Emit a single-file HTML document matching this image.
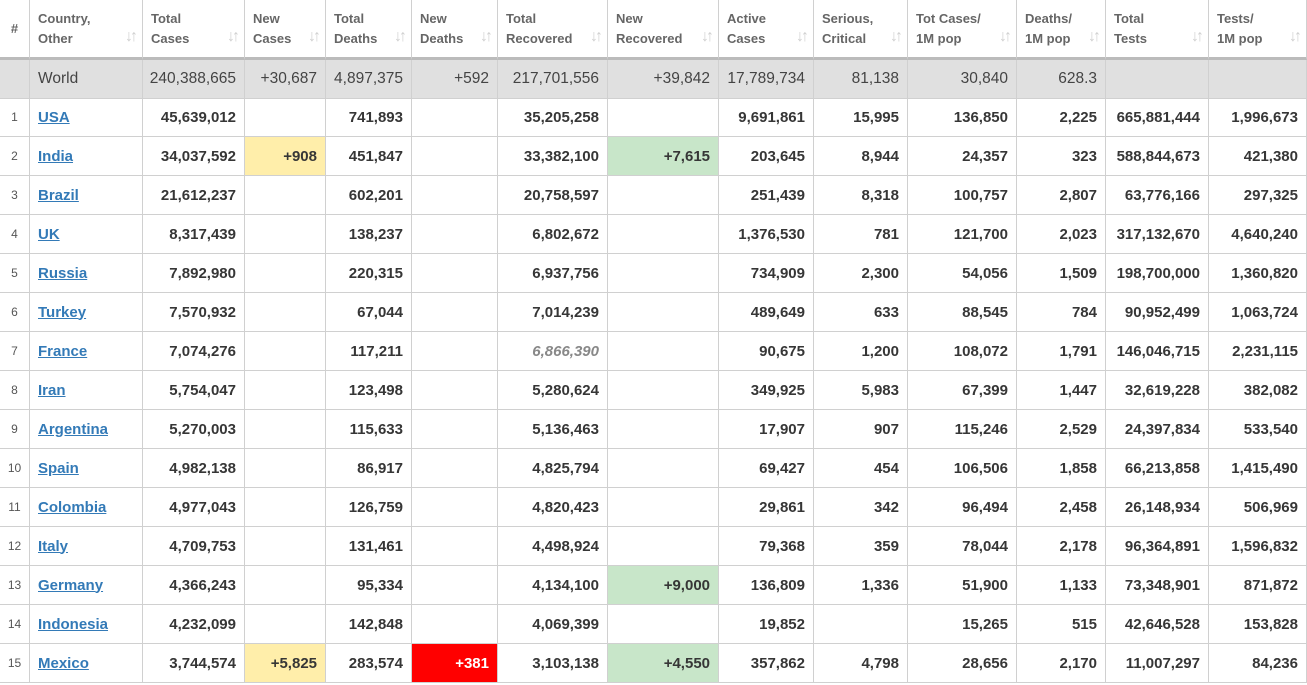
<!DOCTYPE html>
<html><head><meta charset="utf-8"><style>
body{margin:0;width:1307px;height:685px;overflow:hidden;background:#fff;font-family:"Liberation Sans",Arial,sans-serif}
#t{position:relative;width:1307px;height:685px}
.c{position:absolute;box-sizing:border-box;border-right:1px solid #d0d0d0;border-bottom:1px solid #d0d0d0;padding:0 8px;display:flex;align-items:center;justify-content:flex-end;font-size:15px;font-weight:bold;color:#363636;white-space:nowrap}
.h{align-items:center;justify-content:flex-start;font-size:13px;color:#666;line-height:20px;white-space:normal;padding:0 26px 0 8px;border-bottom:3px solid #bbb}
.h .s{position:absolute;right:7px;bottom:10px;color:#d0d0d0;font-size:16px;letter-spacing:-3px}
.w{background:#e0e0e0;font-weight:normal;color:#444;font-size:15.5px}
.l{justify-content:flex-start}
.l a{color:#337ab7;text-decoration:underline}
.n{justify-content:center;font-weight:normal;font-size:12px;color:#555}
.y{background:#ffeeaa}.g{background:#c8e6c9}.r{background:#ff0000;color:#fff}
.i{color:#888;font-style:italic}
</style></head><body><div id="t"></div>
<script>
const widths=[30,113,102,81,86,86,110,111,95,94,109,89,103,98];
const headers=["#","Country,<br>Other","Total<br>Cases","New<br>Cases","Total<br>Deaths","New<br>Deaths","Total<br>Recovered","New<br>Recovered","Active<br>Cases","Serious,<br>Critical","Tot Cases/<br>1M pop","Deaths/<br>1M pop","Total<br>Tests","Tests/<br>1M pop"];
const world=["","World","240,388,665","+30,687","4,897,375","+592","217,701,556","+39,842","17,789,734","81,138","30,840","628.3","",""];
const rows=[
["1","USA","45,639,012","","741,893","","35,205,258","","9,691,861","15,995","136,850","2,225","665,881,444","1,996,673"],
["2","India","34,037,592","+908","451,847","","33,382,100","+7,615","203,645","8,944","24,357","323","588,844,673","421,380"],
["3","Brazil","21,612,237","","602,201","","20,758,597","","251,439","8,318","100,757","2,807","63,776,166","297,325"],
["4","UK","8,317,439","","138,237","","6,802,672","","1,376,530","781","121,700","2,023","317,132,670","4,640,240"],
["5","Russia","7,892,980","","220,315","","6,937,756","","734,909","2,300","54,056","1,509","198,700,000","1,360,820"],
["6","Turkey","7,570,932","","67,044","","7,014,239","","489,649","633","88,545","784","90,952,499","1,063,724"],
["7","France","7,074,276","","117,211","","6,866,390","","90,675","1,200","108,072","1,791","146,046,715","2,231,115"],
["8","Iran","5,754,047","","123,498","","5,280,624","","349,925","5,983","67,399","1,447","32,619,228","382,082"],
["9","Argentina","5,270,003","","115,633","","5,136,463","","17,907","907","115,246","2,529","24,397,834","533,540"],
["10","Spain","4,982,138","","86,917","","4,825,794","","69,427","454","106,506","1,858","66,213,858","1,415,490"],
["11","Colombia","4,977,043","","126,759","","4,820,423","","29,861","342","96,494","2,458","26,148,934","506,969"],
["12","Italy","4,709,753","","131,461","","4,498,924","","79,368","359","78,044","2,178","96,364,891","1,596,832"],
["13","Germany","4,366,243","","95,334","","4,134,100","+9,000","136,809","1,336","51,900","1,133","73,348,901","871,872"],
["14","Indonesia","4,232,099","","142,848","","4,069,399","","19,852","","15,265","515","42,646,528","153,828"],
["15","Mexico","3,744,574","+5,825","283,574","+381","3,103,138","+4,550","357,862","4,798","28,656","2,170","11,007,297","84,236"]];
const names=["rank","country","total-cases","new-cases","total-deaths","new-deaths","total-recovered","new-recovered","active-cases","serious-critical","cases-per-1m","deaths-per-1m","total-tests","tests-per-1m"];
const T=document.getElementById('t');
const xs=[];let acc=0;widths.forEach(w=>{xs.push(acc);acc+=w;});
function cell(x,y,w,h,cls,html,name,inter){const d=document.createElement('div');d.className='c '+cls;d.style.left=x+'px';d.style.top=y+'px';d.style.width=w+'px';d.style.height=h+'px';d.innerHTML=html;


T.appendChild(d);return d;}
headers.forEach((h,j)=>{const d=cell(xs[j],0,widths[j],60,'h',h+(j>0?'<span class="s">↓↑</span>':''),'header-'+names[j],j>0);if(j==0){d.style.padding='0';d.style.justifyContent='center';}});
world.forEach((v,j)=>cell(xs[j],60,widths[j],39,'w'+(j==1?' l':''),v,'world-'+names[j],false));
rows.forEach((r,i)=>{const y=98+i*39;r.forEach((v,j)=>{let cls='';let html=v;
if(j==0)cls='n';if(j==1){cls='l';html='<a>'+v+'</a>';}
if(v&&j==3)cls='y';if(v&&j==5)cls='r';if(v&&j==7)cls='g';
if(i==6&&j==6)cls='i';
cell(xs[j],y,widths[j],39,cls,html,'row-'+r[1].toLowerCase()+'-'+names[j],j==1);});});
</script></body></html>
